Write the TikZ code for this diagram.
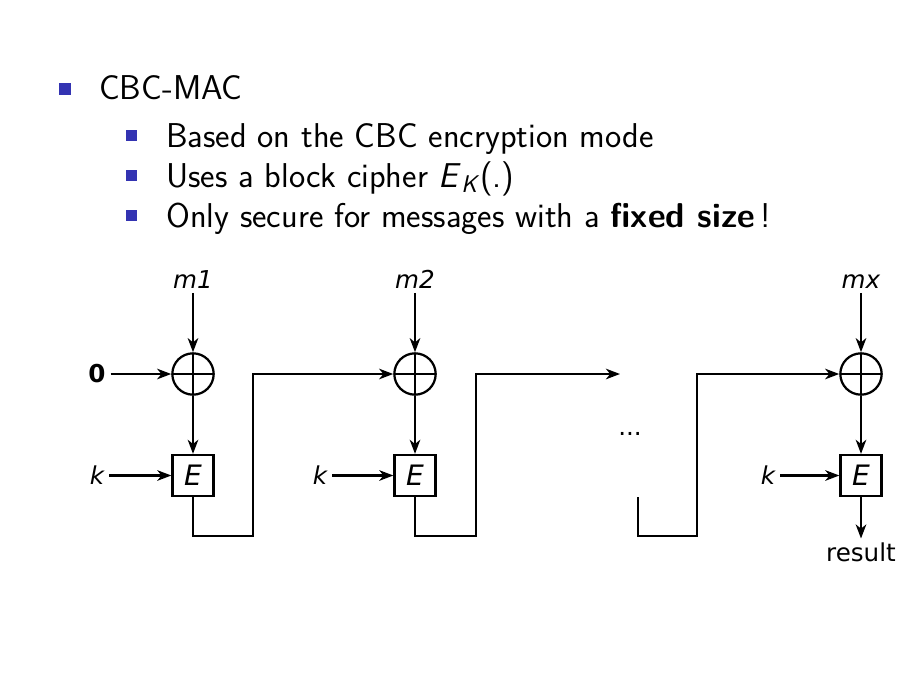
\documentclass[tikz,border=0pt]{standalone}
\usepackage{fontspec}
\newfontfamily\dejavu{DejaVu Sans}
\usepackage{tikz}
\usetikzlibrary{arrows.meta}
\definecolor{structblue}{rgb}{0.2,0.2,0.7}

\tikzset{
  wire/.style={line width=1.6pt},
  flow/.style={wire, -{Stealth[length=10pt,width=7.5pt,inset=3pt]}},
  xorgate/.style={circle, draw, line width=1.6pt, minimum size=29.4pt, inner sep=0pt,
    path picture={\draw[line width=1.6pt]
      (path picture bounding box.north) -- (path picture bounding box.south)
      (path picture bounding box.west) -- (path picture bounding box.east);}},
  cipher/.style={rectangle, draw, line width=1.6pt, minimum size=29.2pt, inner sep=0pt,
    font=\dejavu\fontsize{20}{24}\selectfont\itshape},
  lbl/.style={font=\dejavu\fontsize{17.5}{21}\selectfont},
  ilbl/.style={font=\dejavu\fontsize{17.5}{21}\selectfont\itshape},
  blbl/.style={font=\dejavu\fontsize{17.5}{21}\selectfont\bfseries},
  toptext/.style={anchor=base west, inner sep=0pt, font=\sffamily\fontsize{24.5}{29}\selectfont},
  subtext/.style={anchor=base west, inner sep=0pt, font=\sffamily\fontsize{24.5}{29}\selectfont},
}

\begin{document}
\begin{tikzpicture}[x=0.025cm, y=-0.025cm]
    \useasboundingbox (0, 0) rectangle (916, 685);

    \fill[structblue] (59, 83) rectangle (71, 95);
    \fill[structblue] (126, 130) rectangle (137, 141);
    \fill[structblue] (126, 170) rectangle (137, 181);
    \fill[structblue] (126, 210) rectangle (137, 221);

    \node[toptext] (title) at (99, 99.5) {CBC-MAC};
    \node[subtext] (based) at (166, 147.5) {Based on the CBC encryption mode};
    \node[subtext] (uses) at (166, 187.5) {Uses a block cipher \textit{E}\textsubscript{\textit{K}}(.)};
    \node[subtext] (only) at (166, 227.5) {Only secure for messages with a \textbf{fixed size}\,!};

    \node[xorgate] (x1) at (193, 374) {};
    \node[xorgate] (x2) at (415, 374) {};
    \node[xorgate] (x3) at (861, 374) {};

    \node[cipher] (e1) at (193, 475.5) {E};
    \node[cipher] (e2) at (415, 475.5) {E};
    \node[cipher] (e3) at (861, 475.5) {E};

    \node[ilbl, anchor=base] (m1) at (193, 288) {m1};
    \node[ilbl, anchor=base] (m2) at (415, 288) {m2};
    \node[ilbl, anchor=base] (mx) at (861, 288) {mx};

    \node[blbl] (zero) at (97, 374) {0};
    \node[ilbl] (k1) at (97, 475.5) {k};
    \node[ilbl] (k2) at (320, 475.5) {k};
    \node[ilbl] (k3) at (768, 475.5) {k};

    \node[lbl, anchor=base] (dots) at (630, 435.5) {...};
    \node[lbl, anchor=base, inner sep=2.5pt] (res) at (861, 561) {result};

    \coordinate (c1) at (253, 536);
    \coordinate (c2) at (476, 536);
    \coordinate (gap) at (620, 374);
    \coordinate (d3) at (638, 497);
    \coordinate (c3) at (697, 536);

    \draw[flow] (m1) -- (x1);
    \draw[flow] (m2) -- (x2);
    \draw[flow] (mx) -- (x3);

    \draw[flow] (zero) -- (x1);
    \draw[flow] (x1) -- (e1);
    \draw[flow] (x2) -- (e2);
    \draw[flow] (x3) -- (e3);

    \draw[flow] (k1) -- (e1);
    \draw[flow] (k2) -- (e2);
    \draw[flow] (k3) -- (e3);

    \draw[flow] (e1.south) |- (c1) |- (x2.west);
    \draw[flow] (e2.south) |- (c2) |- (gap);
    \draw[flow] (d3) |- (c3) |- (x3.west);
    \draw[flow] (e3) -- (res);
\end{tikzpicture}
\end{document}
